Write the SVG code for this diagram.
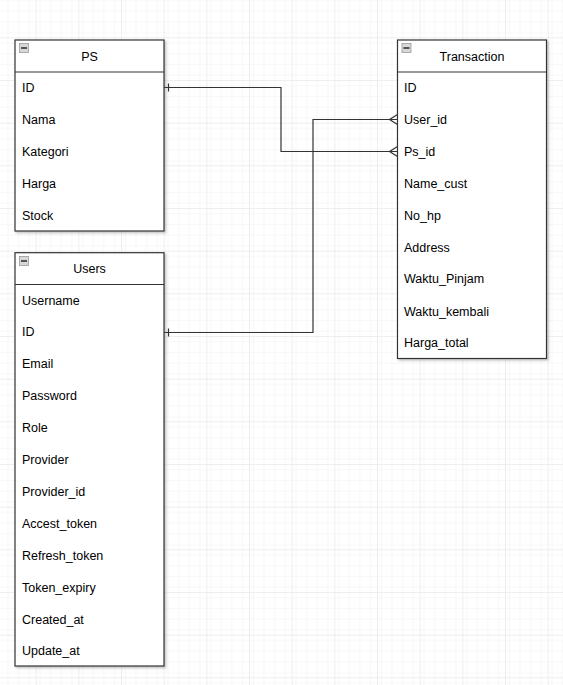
<svg xmlns="http://www.w3.org/2000/svg" width="563" height="685" viewBox="0 0 563 685">
  <defs>
    <pattern id="minor" width="10.667" height="10.667" patternUnits="userSpaceOnUse" x="35.7" y="37.3">
      <path d="M 0 0 L 10.667 0 M 0 0 L 0 10.667" fill="none" stroke="#f0f0f0" stroke-width="1"/>
    </pattern>
    <pattern id="major" width="42.667" height="42.667" patternUnits="userSpaceOnUse" x="35.7" y="37.3">
      <rect width="42.667" height="42.667" fill="url(#minor)"/>
      <path d="M 0 0 L 42.667 0 M 0 0 L 0 42.667" fill="none" stroke="#dedede" stroke-width="1"/>
    </pattern>
    <filter id="sh" x="-10%" y="-10%" width="130%" height="130%">
      <feDropShadow dx="1.5" dy="1.5" stdDeviation="0.8" flood-color="#000" flood-opacity="0.25"/>
    </filter>
    <g id="minus">
      <rect x="0" y="0" width="9" height="9" fill="#d8d8d8" stroke="#999" stroke-width="0.8"/>
      <rect x="1.5" y="3.5" width="6" height="2" fill="#555"/>
    </g>
  </defs>
  <style>
    .box { fill: #ffffff; stroke: #333333; stroke-width: 1.2; }
    .sep { stroke: #333333; stroke-width: 1.2; fill: none; }
    .title { font-family: "Liberation Sans", Arial, sans-serif; font-size: 12.5px; fill: #000; text-anchor: middle; }
    .row { font-family: "Liberation Sans", Arial, sans-serif; font-size: 12.5px; fill: #000; }
    .edge { stroke: #333333; stroke-width: 1.2; fill: none; }
  </style>
  <rect width="563" height="685" fill="#ffffff"/>
  <rect width="563" height="685" fill="url(#major)"/>

  <g id="node-ps">
    <rect class="box" x="15" y="40" width="149" height="191" filter="url(#sh)"/>
    <line class="sep" x1="15" y1="72" x2="164" y2="72"/>
    <use href="#minus" x="19.5" y="43.5"/>
    <text class="title" x="89.5" y="60.5">PS</text>
    <text class="row" x="22" y="91.5">ID</text>
    <text class="row" x="22" y="123.5">Nama</text>
    <text class="row" x="22" y="155.5">Kategori</text>
    <text class="row" x="22" y="187.5">Harga</text>
    <text class="row" x="22" y="219.5">Stock</text>
  </g>

  <g id="node-users">
    <rect class="box" x="15" y="252.7" width="149" height="413.3" filter="url(#sh)"/>
    <line class="sep" x1="15" y1="284.5" x2="164" y2="284.5"/>
    <use href="#minus" x="19.5" y="256.5"/>
    <text class="title" x="89.5" y="273">Users</text>
    <text class="row" x="22" y="304.5">Username</text>
    <text class="row" x="22" y="336.4">ID</text>
    <text class="row" x="22" y="368.3">Email</text>
    <text class="row" x="22" y="400.2">Password</text>
    <text class="row" x="22" y="432.1">Role</text>
    <text class="row" x="22" y="464">Provider</text>
    <text class="row" x="22" y="495.9">Provider_id</text>
    <text class="row" x="22" y="527.8">Accest_token</text>
    <text class="row" x="22" y="559.7">Refresh_token</text>
    <text class="row" x="22" y="591.6">Token_expiry</text>
    <text class="row" x="22" y="623.5">Created_at</text>
    <text class="row" x="22" y="655.4">Update_at</text>
  </g>

  <g id="node-transaction">
    <rect class="box" x="397.5" y="40" width="149" height="318.5" filter="url(#sh)"/>
    <line class="sep" x1="397.5" y1="72" x2="546.5" y2="72"/>
    <use href="#minus" x="402" y="43.5"/>
    <text class="title" x="472" y="60.5">Transaction</text>
    <text class="row" x="404" y="91.5">ID</text>
    <text class="row" x="404" y="123.5">User_id</text>
    <text class="row" x="404" y="155.5">Ps_id</text>
    <text class="row" x="404" y="187.5">Name_cust</text>
    <text class="row" x="404" y="219.5">No_hp</text>
    <text class="row" x="404" y="251.5">Address</text>
    <text class="row" x="404" y="283">Waktu_Pinjam</text>
    <text class="row" x="404" y="315.5">Waktu_kembali</text>
    <text class="row" x="404" y="347">Harga_total</text>
  </g>

  <g id="connectors">
    <path class="edge" d="M 164 87.5 L 281 87.5 L 281 151.5 L 397.5 151.5"/>
    <line class="edge" x1="168.5" y1="83.5" x2="168.5" y2="91.5"/>
    <path class="edge" d="M 397.5 146.5 L 389.5 151.5 L 397.5 156.5"/>

    <path class="edge" d="M 164 332.5 L 313 332.5 L 313 119.5 L 397.5 119.5"/>
    <line class="edge" x1="168.5" y1="328.5" x2="168.5" y2="336.5"/>
    <path class="edge" d="M 397.5 114.5 L 389.5 119.5 L 397.5 124.5"/>
  </g>
</svg>
